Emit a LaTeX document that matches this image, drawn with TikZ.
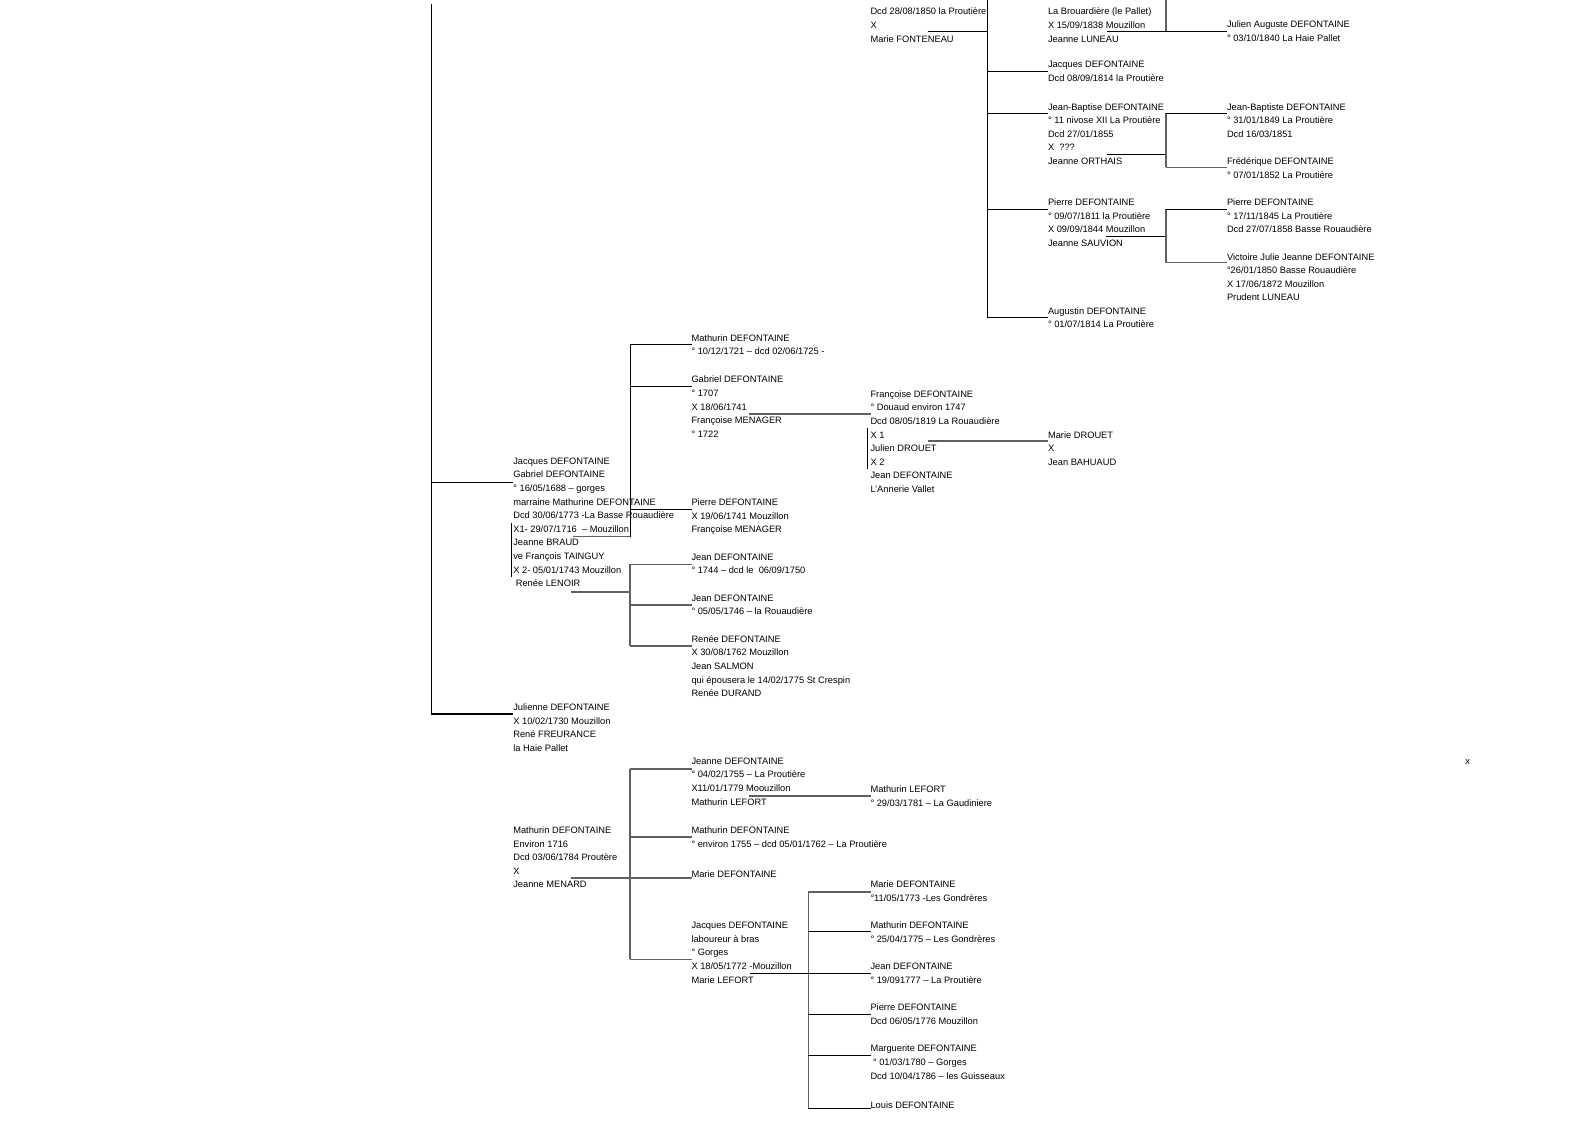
\documentclass[tikz,border=0pt]{standalone}
\usepackage{fontspec}
\setmainfont{Liberation Sans}
\newcommand{\fs}{\fontsize{9.3}{13.6}\selectfont}
\tikzset{
 txt/.style={anchor=north west, inner sep=0pt, outer sep=0pt, align=left, font=\fs, execute at begin node={\rule{0pt}{9pt}}},
 ln/.style={draw=black, line width=1pt},
 lg/.style={draw=black!62, line width=1.6pt},
}
\newcommand{\blk}[4]{\node[txt] (#1) at (#2,#3-6.2) {#4};}
\newcommand{\hb}[4]{\draw[#1] (#2,#3) coordinate (tmp) -- (tmp -| #4.west);}
\begin{document}
\begin{tikzpicture}[x=1pt,y=-1pt]
\useasboundingbox (0,0) rectangle (1588,1123);
% ---- top part
\blk{c0}{870.5}{14.3}{Dcd 28/08/1850 la Proutière\\X\\Marie FONTENEAU}
\blk{d0}{1048}{14.3}{La Brouardière (le Pallet)\\X 15/09/1838 Mouzillon\\Jeanne LUNEAU}
\blk{e0}{1227}{27.3}{Julien Auguste DEFONTAINE\\° 03/10/1840 La Haie Pallet}
\blk{d1}{1048}{67.5}{Jacques DEFONTAINE\\Dcd 08/09/1814 la Proutière}
\blk{d2}{1048}{109.5}{Jean-Baptise DEFONTAINE\\° 11 nivose XII La Proutière\\Dcd 27/01/1855\\X\ \ ???\\Jeanne ORTHAIS}
\blk{e1}{1227}{109.5}{Jean-Baptiste DEFONTAINE\\° 31/01/1849 La Proutière\\Dcd 16/03/1851}
\blk{e2}{1227}{164}{Frédérique DEFONTAINE\\° 07/01/1852 La Proutière}
\blk{d3}{1048}{205}{Pierre DEFONTAINE\\° 09/07/1811 la Proutière\\X 09/09/1844 Mouzillon\\Jeanne SAUVION}
\blk{e3}{1227}{205}{Pierre DEFONTAINE\\° 17/11/1845 La Proutière\\Dcd 27/07/1858 Basse Rouaudière}
\blk{e4}{1227}{259.5}{Victoire Julie Jeanne DEFONTAINE\\°26/01/1850 Basse Rouaudière\\X 17/06/1872 Mouzillon\\Prudent LUNEAU}
\blk{d4}{1048}{313.5}{Augustin DEFONTAINE\\° 01/07/1814 La Proutière}
% ---- middle part
\blk{b1}{691.5}{340.7}{Mathurin DEFONTAINE\\° 10/12/1721 – dcd 02/06/1725 -}
\blk{b2}{691.5}{382.3}{Gabriel DEFONTAINE\\° 1707\\X 18/06/1741\\Françoise MENAGER\\° 1722}
\blk{c1}{870.5}{396.7}{Françoise DEFONTAINE\\° Douaud environ 1747\\Dcd 08/05/1819 La Rouaudière\\X 1\\Julien DROUET\\X 2\\Jean DEFONTAINE\\L'Annerie Vallet}
\blk{d5}{1048}{437.5}{Marie DROUET\\X\\Jean BAHUAUD}
\blk{a1}{513.3}{464}{Jacques DEFONTAINE\\Gabriel DEFONTAINE\\° 16/05/1688 – gorges\\marraine Mathurine DEFONTAINE\\Dcd 30/06/1773 -La Basse Rouaudière\\X1- 29/07/1716\ \ – Mouzillon\\Jeanne BRAUD\\ve François TAINGUY\\X 2- 05/01/1743 Mouzillon\\\hspace*{2.5pt}Renée LENOIR}
\blk{b3}{691.5}{505}{Pierre DEFONTAINE\\X 19/06/1741 Mouzillon\\Françoise MENAGER}
\blk{b4}{691.5}{560}{Jean DEFONTAINE\\° 1744 – dcd le\ \ 06/09/1750}
\blk{b5}{691.5}{601}{Jean DEFONTAINE\\° 05/05/1746 – la Rouaudière}
\blk{b6}{691.5}{641.7}{Renée DEFONTAINE\\X 30/08/1762 Mouzillon\\Jean SALMON\\qui épousera le 14/02/1775 St Crespin\\Renée DURAND}
\blk{a2}{513.3}{710}{Julienne DEFONTAINE\\X 10/02/1730 Mouzillon\\René FREURANCE\\la Haie Pallet}
% ---- lower part
\blk{b7}{691.5}{764}{Jeanne DEFONTAINE\\° 04/02/1755 – La Proutière\\X11/01/1779 Moouzillon\\Mathurin LEFORT}
\blk{c2}{870.5}{792}{Mathurin LEFORT\\° 29/03/1781 – La Gaudiniere}
\blk{b8}{691.5}{833}{Mathurin DEFONTAINE\\° environ 1755 – dcd 05/01/1762 – La Proutière}
\blk{a3}{513.3}{833}{Mathurin DEFONTAINE\\Environ 1716\\Dcd 03/06/1784 Proutère\\X\\Jeanne MENARD}
\blk{b9}{691.5}{874.3}{Marie DEFONTAINE}
\blk{b10}{691.5}{928.3}{Jacques DEFONTAINE\\laboureur à bras\\° Gorges\\X 18/05/1772 -Mouzillon\\Marie LEFORT}
\blk{c3}{870.5}{887.3}{Marie DEFONTAINE\\°11/05/1773 -Les Gondrères}
\blk{c4}{870.5}{928.3}{Mathurin DEFONTAINE\\° 25/04/1775 – Les Gondrères}
\blk{c5}{870.5}{969.3}{Jean DEFONTAINE\\° 19/091777 – La Proutière}
\blk{c6}{870.5}{1010}{Pierre DEFONTAINE\\Dcd 06/05/1776 Mouzillon}
\blk{c7}{870.5}{1051.3}{Marguerite DEFONTAINE\\\hspace*{2.5pt}° 01/03/1780 – Gorges\\Dcd 10/04/1786 – les Guisseaux}
\blk{c8}{870.5}{1105.3}{Louis DEFONTAINE}
\node[font=\fs, inner sep=0pt] (xm) at (1467.7,761.7) {x};
% ---- connectors: main line
\draw[ln, line width=1.4pt] (431.7,4) -- (431.7,714) coordinate (mbot) -- (mbot -| a2.west);
\hb{ln}{431.7}{482.3}{a1}
% top part
\draw[ln] (987,0) -- (987,317.7);
\draw[ln] (927.7,31.7) -- (987,31.7);
\hb{ln}{987}{72}{d1}
\hb{ln}{987}{113.3}{d2}
\hb{ln}{987}{209.3}{d3}
\hb{ln}{987}{317.7}{d4}
\draw[lg] (1165.7,0) -- (1165.7,31.5);
\draw[ln] (1106.7,31.5) -- (1165.7,31.5) coordinate (tmp) -- (tmp -| e0.west);
\draw[ln] (1106.7,154.3) -- (1165.7,154.3);
\draw[lg] (1165.7,113.3) -- (1165.7,167.5);
\hb{ln}{1165.7}{113.3}{e1}
\hb{lg}{1165.7}{167.5}{e2}
\draw[ln] (1106,236.7) -- (1165.7,236.7);
\draw[lg] (1165.7,209.3) -- (1165.7,262.7);
\hb{ln}{1165.7}{209.3}{e3}
\hb{lg}{1165.7}{262.7}{e4}
% middle part
\draw[ln] (630,345) -- (630,536.5);
\hb{ln}{630}{345}{b1}
\hb{ln}{630}{386.7}{b2}
\hb{ln}{630}{509.3}{b3}
\draw[lg] (573,536.5) -- (630,536.5);
\draw[lg] (749.3,414) coordinate (tmp) -- (tmp -| c1.west);
\draw[lg] (928.3,440.7) coordinate (tmp) -- (tmp -| d5.west);
\draw[ln] (511,523.3) -- (511,577.3);
\draw[ln] (867.7,428.3) -- (867.7,469);
\draw[lg] (630,564.3) -- (630,645.7);
\hb{lg}{630}{564.3}{b4}
\hb{lg}{630}{605}{b5}
\hb{lg}{630}{645.7}{b6}
\draw[lg] (571,591.7) -- (630,591.7);
% lower part
\draw[lg] (630,768.7) -- (630,959.3);
\hb{lg}{630}{768.7}{b7}
\hb{lg}{630}{836.7}{b8}
\hb{lg}{630}{877.7}{b9}
\hb{lg}{630}{959.3}{b10}
\draw[lg] (571,877.7) -- (630,877.7);
\draw[lg] (749.3,796) coordinate (tmp) -- (tmp -| c2.west);
\draw[ln] (750,973.3) -- (808.3,973.3);
\draw[lg] (808.3,891.7) -- (808.3,1108.5);
\hb{lg}{808.3}{891.7}{c3}
\hb{ln}{808.3}{931.7}{c4}
\hb{ln}{808.3}{973.3}{c5}
\hb{ln}{808.3}{1014}{c6}
\hb{ln}{808.3}{1055}{c7}
\hb{ln}{808.3}{1108.5}{c8}
\end{tikzpicture}
\end{document}
